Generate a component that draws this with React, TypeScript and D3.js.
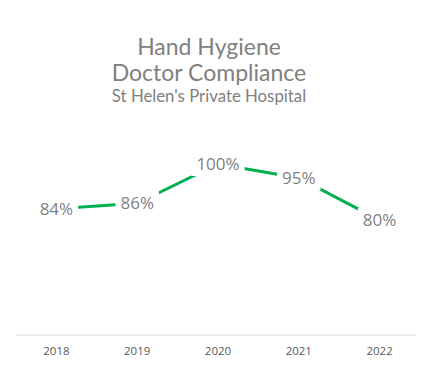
import { useEffect, useRef } from 'react';
import * as d3 from 'd3';

const years = ['2018', '2019', '2020', '2021', '2022'];
const compliance = [84, 86, 100, 95, 80];
const titleLines = ['Hand Hygiene', 'Doctor Compliance'];
const subtitle = "St Helen's Private Hospital";

export default function App() {
  const svgRef = useRef<SVGSVGElement>(null);

  useEffect(() => {
    if (!svgRef.current) return;
    const svg = d3.select(svgRef.current);
    svg.selectAll('*').remove();

    const width = 424;
    const height = 365;
    const margin = { left: 16, right: 4 };
    const axisY = 335;

    svg.attr('width', width).attr('height', height);

    // Title
    svg.append('g')
      .selectAll('text')
      .data(titleLines)
      .enter()
      .append('text')
      .attr('x', 209)
      .attr('y', (d, i) => 55 + i * 26)
      .attr('text-anchor', 'middle')
      .style('font-family', 'Lato, "Open Sans", sans-serif')
      .style('font-size', '23px')
      .style('fill', '#808080')
      .text(d => d);

    svg.append('text')
      .attr('x', 209)
      .attr('y', 102)
      .attr('text-anchor', 'middle')
      .style('font-family', 'Lato, "Open Sans", sans-serif')
      .style('font-size', '16.8px')
      .style('fill', '#808080')
      .text(subtitle);

    // Scales
    const x = d3.scaleBand()
      .domain(years)
      .range([margin.left, width - margin.right]);

    const y = d3.scaleLinear()
      .domain([39, 100])
      .range([axisY, 164]);

    const cx = (d: string) => (x(d) ?? 0) + x.bandwidth() / 2;

    // Axis line
    svg.append('line')
      .attr('x1', margin.left)
      .attr('x2', width - margin.right)
      .attr('y1', axisY)
      .attr('y2', axisY)
      .attr('stroke', '#d9d9d9')
      .attr('stroke-width', 1);

    // Category labels
    svg.append('g')
      .selectAll('text')
      .data(years)
      .enter()
      .append('text')
      .attr('x', d => cx(d))
      .attr('y', 355)
      .attr('text-anchor', 'middle')
      .style('font-family', '"Open Sans", sans-serif')
      .style('font-size', '11.5px')
      .style('fill', '#595959')
      .text(d => d);

    const pts = years.map((yr, i) => ({ yr, v: compliance[i] }));

    // Line
    const line = d3.line<{ yr: string; v: number }>()
      .x(d => cx(d.yr))
      .y(d => y(d.v));

    svg.append('path')
      .datum(pts)
      .attr('d', line)
      .attr('fill', 'none')
      .attr('stroke', '#00b050')
      .attr('stroke-width', 3);

    // Data labels with white backgrounds
    const labels = svg.append('g')
      .selectAll('g')
      .data(pts)
      .enter()
      .append('g')
      .attr('transform', d => `translate(${cx(d.yr)},${y(d.v)})`);

    const rects = labels.append('rect').attr('fill', '#fff');

    const texts = labels.append('text')
      .attr('text-anchor', 'middle')
      .attr('dy', '0.35em')
      .style('font-family', '"Open Sans", sans-serif')
      .style('font-size', '17px')
      .style('fill', '#7f7f7f')
      .text(d => `${d.v}%`);

    texts.each(function (_, i) {
      const w = (this as SVGTextElement).getComputedTextLength();
      d3.select(rects.nodes()[i])
        .attr('x', -w / 2 - 5)
        .attr('y', -12)
        .attr('width', w + 10)
        .attr('height', 24);
    });
  }, []);

  return (
    <div style={{ margin: -8 }}>
      <svg ref={svgRef} style={{ display: 'block' }} />
    </div>
  );
}
